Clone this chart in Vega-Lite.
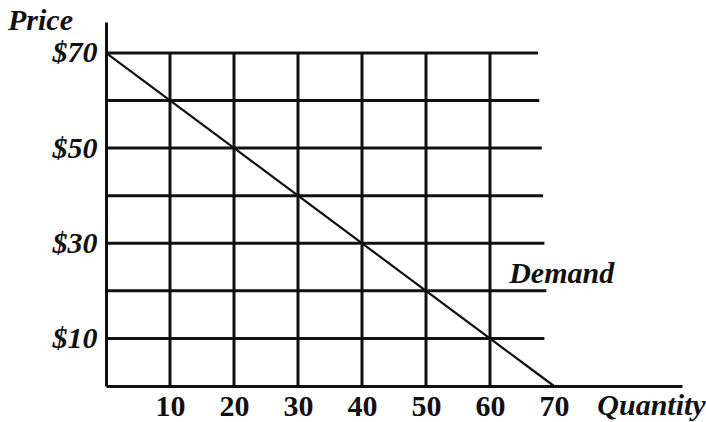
{
  "$schema": "https://vega.github.io/schema/vega-lite/v6.json",
  "width": 576,
  "height": 364,
  "autosize": "none",
  "padding": {"left": 106, "top": 22, "right": 24, "bottom": 36},
  "background": "white",
  "config": {"view": {"stroke": null}},
  "datasets": {
    "hgrid": [
      {"price": 70, "q0": 0, "q1": 67.5},
      {"price": 60, "q0": 0, "q1": 67.7},
      {"price": 50, "q0": 0, "q1": 68.1},
      {"price": 40, "q0": 0, "q1": 68.3},
      {"price": 30, "q0": 0, "q1": 68.5},
      {"price": 20, "q0": 0, "q1": 68.8},
      {"price": 10, "q0": 0, "q1": 68.5}
    ],
    "vgrid": [
      {"qty": 10, "p0": 0, "p1": 70},
      {"qty": 20, "p0": 0, "p1": 70},
      {"qty": 30, "p0": 0, "p1": 70},
      {"qty": 40, "p0": 0, "p1": 70},
      {"qty": 50, "p0": 0, "p1": 70},
      {"qty": 60, "p0": 0, "p1": 70}
    ],
    "demand": [
      {"qty": 0, "price": 70},
      {"qty": 70, "price": 0}
    ],
    "labels": [
      {"qty": 63, "price": 23.5, "text": "Demand"}
    ]
  },
  "layer": [
    {
      "data": {"name": "hgrid"},
      "mark": {"type": "rule", "color": "#111", "strokeWidth": 3},
      "encoding": {
        "x": {
          "field": "q0", "type": "quantitative",
          "scale": {"domain": [0, 90], "nice": false, "zero": false},
          "axis": {
            "values": [10, 20, 30, 40, 50, 60, 70],
            "grid": false, "ticks": false,
            "domain": true, "domainColor": "#111", "domainWidth": 3,
            "labelFont": "Liberation Serif", "labelFontWeight": "bold", "labelFontSize": 30,
            "labelColor": "#111", "labelPadding": 5, "labelFlush": false, "labelOverlap": false,
            "title": "Quantity", "titleFont": "Liberation Serif", "titleFontWeight": "bold",
            "titleFontStyle": "italic", "titleFontSize": 30, "titleColor": "#111",
            "titleAngle": 0, "titleX": 545, "titleY": 28, "titleAlign": "center", "titleBaseline": "alphabetic"
          }
        },
        "x2": {"field": "q1"},
        "y": {
          "field": "price", "type": "quantitative",
          "scale": {"domain": [0, 76.5], "nice": false, "zero": false},
          "axis": {
            "values": [10, 30, 50, 70],
            "labelExpr": "'$' + datum.value",
            "grid": false, "ticks": false,
            "domain": true, "domainColor": "#111", "domainWidth": 3,
            "labelFont": "Liberation Serif", "labelFontWeight": "bold", "labelFontStyle": "italic",
            "labelFontSize": 30, "labelColor": "#111", "labelPadding": 9, "labelFlush": false, "labelOverlap": false,
            "title": "Price", "titleFont": "Liberation Serif", "titleFontWeight": "bold",
            "titleFontStyle": "italic", "titleFontSize": 30, "titleColor": "#111",
            "titleAngle": 0, "titleX": -66, "titleY": 7, "titleAlign": "center", "titleBaseline": "alphabetic"
          }
        }
      }
    },
    {
      "data": {"name": "vgrid"},
      "mark": {"type": "rule", "color": "#111", "strokeWidth": 3},
      "encoding": {
        "x": {"field": "qty", "type": "quantitative"},
        "y": {"field": "p0", "type": "quantitative"},
        "y2": {"field": "p1"}
      }
    },
    {
      "data": {"name": "demand"},
      "mark": {"type": "line", "color": "#111", "strokeWidth": 2.2},
      "encoding": {
        "x": {"field": "qty", "type": "quantitative"},
        "y": {"field": "price", "type": "quantitative"}
      }
    },
    {
      "data": {"name": "labels"},
      "mark": {"type": "text", "font": "Liberation Serif", "fontWeight": "bold", "fontStyle": "italic",
               "fontSize": 30, "color": "#111", "align": "left", "baseline": "middle"},
      "encoding": {
        "x": {"field": "qty", "type": "quantitative"},
        "y": {"field": "price", "type": "quantitative"},
        "text": {"field": "text"}
      }
    }
  ]
}
